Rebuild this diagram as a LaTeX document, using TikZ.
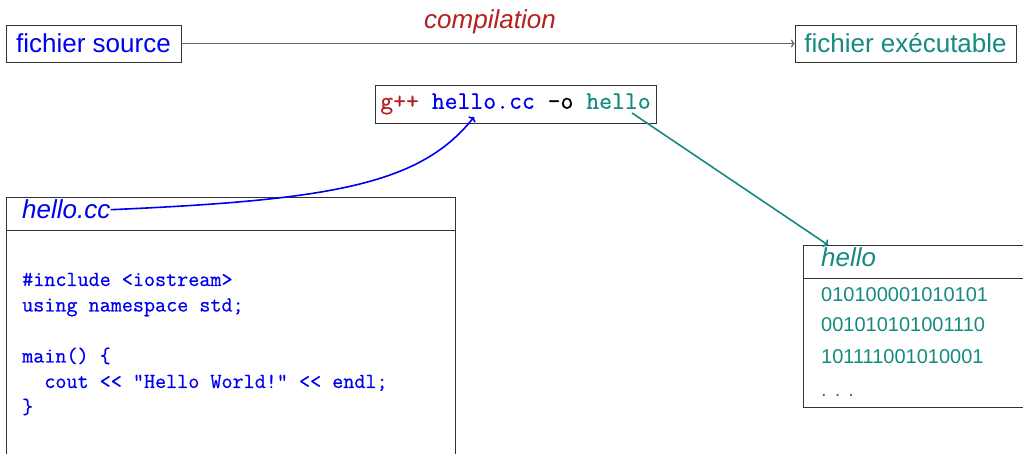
\documentclass[tikz,border=0pt]{standalone}
\usepackage{fontspec}
\setmainfont{Liberation Sans}
\newfontfamily\codefont[RawFeature={embolden=0.6}]{Latin Modern Mono}
\usetikzlibrary{arrows.meta}
\definecolor{srcblue}{RGB}{0,0,240}
\definecolor{exeteal}{RGB}{20,138,128}
\definecolor{cmdred}{RGB}{178,34,34}
\definecolor{framegray}{RGB}{50,50,50}
\tikzset{
  labelbox/.style={draw=framegray, line width=0.8pt, inner sep=0pt,
    minimum height=37pt, font=\fontsize{26}{30}\selectfont},
  filebox/.style={draw=framegray, line width=0.8pt},
  title/.style={anchor=base west, inner sep=0pt, font=\fontsize{26}{30}\selectfont\itshape},
  codeline/.style={anchor=base west, inner sep=0pt, text=srcblue,
    font=\fontsize{21.5}{25}\selectfont\codefont},
  binline/.style={anchor=base west, inner sep=0pt, text=exeteal,
    font=\fontsize{20}{24}\selectfont},
  flow/.style={-{To[length=4pt,width=9pt]}, line width=1.6pt},
}
\begin{document}
\begin{tikzpicture}[x=1pt,y=-1pt]
\clip (0,0) rectangle (1023,454);

% top line: source file -> executable
\node[labelbox, minimum width=175pt, text=srcblue] (fsrc) at (93.5,43.5) {fichier source};
\node[labelbox, minimum width=221pt, text=exeteal] (fexe) at (905.5,43.5) {fichier exécutable};
\draw[-{To[length=3.5pt,width=8pt]}, draw=black!60, line width=1.2pt] (fsrc) -- (fexe)
  node[midway, above=6pt, xshift=2pt, text=cmdred, font=\fontsize{26}{30}\selectfont\itshape] (comp) {compilation};

% compile command
\node[draw=framegray, line width=0.8pt, minimum width=281pt, minimum height=38pt, inner sep=0pt,
  font=\fontsize{25}{30}\selectfont\codefont] (cmd) at (515.5,104)
  {\textcolor{cmdred}{g++} \textcolor{srcblue}{hello.cc} -o \textcolor{exeteal}{hello}};
\coordinate (cmdin) at (474,117);
\coordinate (cmdout) at (632,113);

% source file box
\draw[filebox] (6,197) rectangle (455,470);
\draw[filebox] (6,230) -- (455,230);
\node[title, text=srcblue] (srcname) at (22,219) {hello.cc};
\node[codeline] (c1) at (22,286) {\#include <iostream>};
\node[codeline] (c2) at (22,311.5) {using namespace std;};
\node[codeline] (c3) at (22,362.5) {main() \{};
\node[codeline] (c4) at (22,388) {\ \ cout << "Hello World!" << endl;};
\node[codeline] (c5) at (22,413.5) {\}};

% executable box
\draw[filebox] (803,245) rectangle (1030,407);
\draw[filebox] (803,278) -- (1030,278);
\coordinate (exetop) at (828,245);
\node[title, text=exeteal] (exename) at (821,267) {hello};
\node[binline] (b1) at (821,301.5) {010100001010101};
\node[binline] (b2) at (821,332) {001010101001110};
\node[binline] (b3) at (821,363) {101111001010001};
\node[binline] (b4) at (821,396) {.\hspace{8pt}.\hspace{8pt}.};

% connectors
\draw[flow, srcblue] (srcname.east) .. controls (330,200) and (420,185) .. (cmdin);
\draw[flow, exeteal] (cmdout) -- (exetop);
\end{tikzpicture}
\end{document}
